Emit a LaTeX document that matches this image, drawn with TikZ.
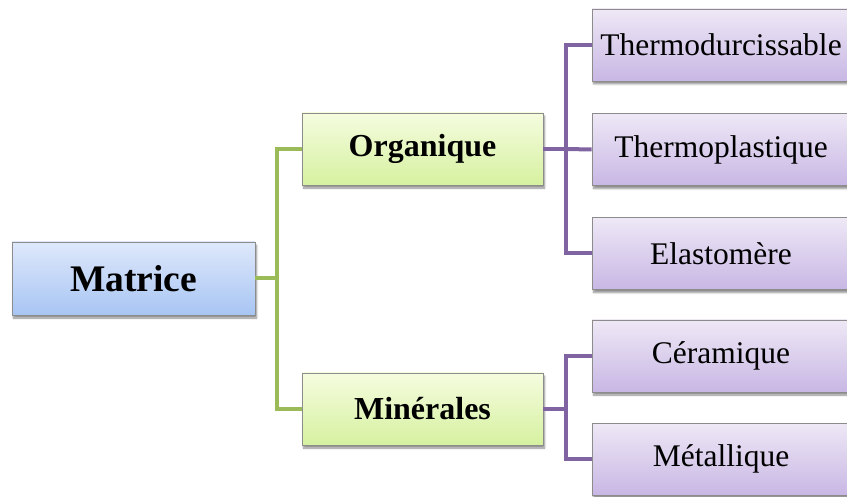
\documentclass[tikz,border=0pt]{standalone}
\usepackage{fontspec}
\setmainfont{Liberation Serif}
\usetikzlibrary{shadows.blur}
\definecolor{linegreen}{HTML}{9BBB59}
\definecolor{linepurple}{HTML}{8064A2}
\definecolor{boxborder}{HTML}{8C8C8C}
\definecolor{bluetop}{HTML}{DEE8FB}
\definecolor{bluebot}{HTML}{A8C5F3}
\definecolor{greentop}{HTML}{F5FCDF}
\definecolor{greenbot}{HTML}{D6F1A0}
\definecolor{purpletop}{HTML}{EEE8F6}
\definecolor{purplebot}{HTML}{C8B7E4}
\tikzset{
  box/.style={draw=boxborder, line width=0.8pt, inner sep=0pt,
    blur shadow={shadow xshift=1.5pt, shadow yshift=-3pt, shadow blur steps=6, shadow opacity=45}},
  rootbox/.style={box, top color=bluetop, bottom color=bluebot,
    minimum width=243pt, minimum height=73pt,
    font=\fontsize{37.5}{42}\selectfont\bfseries},
  midbox/.style={box, top color=greentop, bottom color=greenbot,
    minimum width=241pt, minimum height=72pt,
    font=\fontsize{32}{38}\selectfont\bfseries},
  leafbox/.style={box, top color=purpletop, bottom color=purplebot,
    minimum width=258pt, minimum height=72pt,
    font=\fontsize{31.5}{38}\selectfont},
  gline/.style={draw=linegreen, line width=4pt},
  pline/.style={draw=linepurple, line width=4pt},
}
\begin{document}
\begin{tikzpicture}[x=1pt, y=-1pt]
  \useasboundingbox (0,0) rectangle (847,497);
  % boxes
  \node[rootbox] (mat) at (133.5,278.5) {Matrice};
  \node[midbox] (org) at (422.5,149) {Organique};
  \node[midbox] (min) at (422.5,409) {Minérales};
  \node[leafbox] (tdu) at (721,45) {Thermodurcissable};
  \node[leafbox] (tpl) at (721,149.5) {Thermoplastique};
  \node[leafbox] (ela) at (721,253.5) {Elastomère};
  \node[leafbox] (cer) at (721,356) {Céramique};
  \node[leafbox] (met) at (721,459) {Métallique};
  % green branches
  \coordinate (gj) at (277,278.5);
  \draw[gline] (mat.east) -- (gj);
  \draw[gline] (gj) |- (org.west);
  \draw[gline] (gj) |- (min.west);
  % purple branches of Organique
  \coordinate (pj1) at (566,149);
  \draw[pline] (org.east) -- (pj1);
  \draw[pline] (pj1) |- (tdu.west);
  \draw[pline] (pj1) -- (tpl.west);
  \draw[pline] (pj1) |- (ela.west);
  % purple branches of Minérales
  \coordinate (pj2) at (566,409);
  \draw[pline] (min.east) -- (pj2);
  \draw[pline] (pj2) |- (cer.west);
  \draw[pline] (pj2) |- (met.west);
\end{tikzpicture}
\end{document}
